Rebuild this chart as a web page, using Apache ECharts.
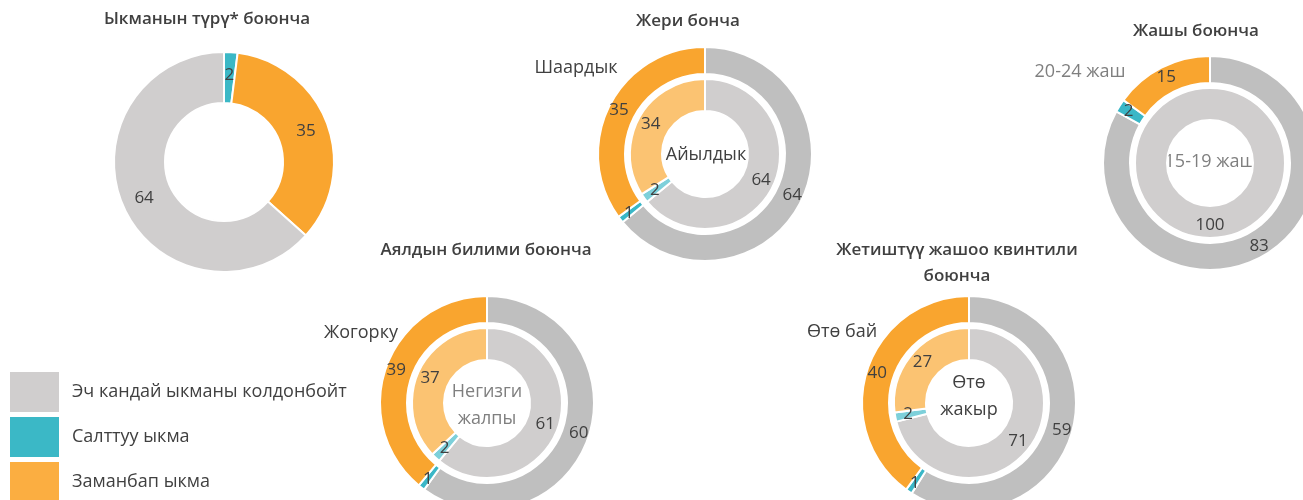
<!DOCTYPE html>
<html>
<head>
<meta charset="utf-8">
<script src="https://cdn.jsdelivr.net/npm/echarts@6/dist/echarts.min.js"></script>
<style>
  html, body { margin: 0; padding: 0; background: #fff; }
  #main { width: 1303px; height: 500px; }
</style>
</head>
<body>
<div id="main"></div>
<script>
// categories (legend order)
var categories = ['Эч кандай ыкманы колдонбойт', 'Салттуу ыкма', 'Заманбап ыкма'];

// values per ring, in category order: [none, traditional, modern]
var methodType = [64, 2, 35];
var urbanOuter = [64, 1, 35];     // Шаардык
var urbanInner = [64, 2, 34];     // Айылдык
var ageOuter = [83, 2, 15];       // 20-24 жаш
var ageInner = [100, 0, 0];       // 15-19 жаш
var eduOuter = [60, 1, 39];       // Жогорку
var eduInner = [61, 2, 37];       // Негизги жалпы
var wealthOuter = [59, 1, 40];    // Өтө бай
var wealthInner = [71, 2, 27];    // Өтө жакыр

var titles = ['Ыкманын түрү* боюнча', 'Жери бонча', 'Жашы боюнча', 'Аялдын билими боюнча', 'Жетиштүү жашоо квинтили\nбоюнча'];

var outerColors = ['#bfbfbf', '#3ab7c7', '#f9a52f'];
var innerColors = ['#d0cece', '#7dd0da', '#fbc372'];
var singleColors = ['#d0cece', '#3bb8c6', '#f9a52f'];
var legendColors = ['#d0cece', '#3bb8c6', '#fbae41'];

var myChart = echarts.init(document.getElementById('main'));

function ring(values, colors, order, center, radius) {
    var data = [];
    order.forEach(function (i) {
        if (values[i] > 0) {
            data.push({ name: categories[i], value: values[i], itemStyle: { color: colors[i] } });
        }
    });
    return {
        type: 'pie',
        center: center,
        radius: radius,
        startAngle: 90,
        clockwise: true,
        avoidLabelOverlap: false,
        silent: true,
        itemStyle: { borderColor: '#fff', borderWidth: 2 },
        label: {
            show: true,
            position: 'inside',
            formatter: '{c}',
            color: '#404040',
            fontSize: 17,
            fontFamily: 'Open Sans'
        },
        labelLine: { show: false },
        emphasis: { disabled: true },
        data: data
    };
}

var outerR = [80, 107];
var innerR = [43, 75];
var dbl = [0, 1, 2];

function txt(x, y, s, opts) {
    opts = opts || {};
    return {
        type: 'text',
        x: x,
        y: y,
        style: {
            text: s,
            fill: opts.color || '#404040',
            font: (opts.weight || 'normal') + ' ' + (opts.size || 18) + 'px "Open Sans"',
            textAlign: opts.align || 'center',
            textVerticalAlign: 'middle',
            lineHeight: opts.lh || 27
        }
    };
}

var tStyle = { weight: 600, size: 17, color: '#404040', lh: 26 };

myChart.setOption({
    animation: false,
    legend: {
        orient: 'vertical',
        left: 8,
        top: 370,
        height: 200,
        padding: 0,
        itemWidth: 51,
        itemHeight: 42,
        itemGap: 1,
        icon: 'rect',
        selectedMode: false,
        textStyle: {
            color: '#404040',
            fontSize: 18,
            fontFamily: 'Open Sans',
            padding: [0, 0, 0, 7]
        },
        data: categories.map(function (c, i) {
            return { name: c, itemStyle: { color: legendColors[i] } };
        })
    },
    graphic: [
        txt(207, 19, titles[0], tStyle),
        txt(688, 21, titles[1], tStyle),
        txt(1196, 31, titles[2], tStyle),
        txt(486, 250, titles[3], tStyle),
        txt(957, 263, titles[4], tStyle),
        txt(576, 68, 'Шаардык'),
        txt(706, 155, 'Айылдык'),
        txt(1080, 72, '20-24 жаш', { color: '#7f7f7f' }),
        txt(1210, 162, '15-19 жаш', { color: '#7f7f7f' }),
        txt(361, 333, 'Жогорку'),
        txt(487, 405, 'Негизги\nжалпы', { color: '#7f7f7f' }),
        txt(842, 332, 'Өтө бай'),
        txt(969, 396, 'Өтө\nжакыр')
    ],
    series: [
        ring(methodType, singleColors, [1, 2, 0], [224, 162], [59, 110]),
        ring(urbanOuter, outerColors, dbl, [705, 154], outerR),
        ring(urbanInner, innerColors, dbl, [705, 154], innerR),
        ring(ageOuter, outerColors, dbl, [1210, 163], outerR),
        ring(ageInner, innerColors, dbl, [1210, 163], innerR),
        ring(eduOuter, outerColors, dbl, [487, 403], outerR),
        ring(eduInner, innerColors, dbl, [487, 403], innerR),
        ring(wealthOuter, outerColors, dbl, [969, 403], outerR),
        ring(wealthInner, innerColors, dbl, [969, 403], innerR)
    ]
}, true);
</script>
</body>
</html>
